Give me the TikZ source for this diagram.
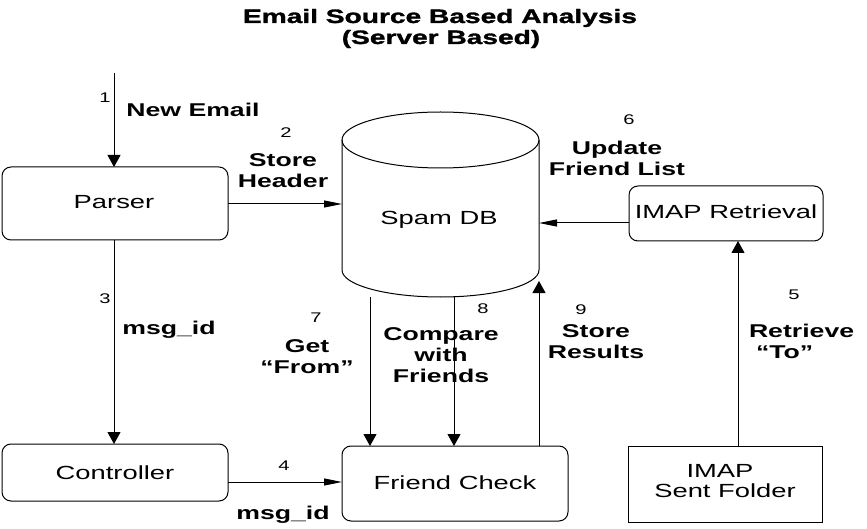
\documentclass[tikz,border=0pt]{standalone}
\usepackage{fontspec}
\setmainfont[FakeStretch=1.44]{Liberation Sans}
\newfontfamily\titlefont[FakeStretch=1.45,FakeBold=1.5]{Liberation Sans Bold}
\usetikzlibrary{arrows.meta}
\begin{document}
\begin{tikzpicture}[x=1pt,y=-1pt,
  every node/.style={inner sep=0pt,outer sep=0pt},
  rbox/.style={draw,line width=1pt,rounded corners=9pt},
  sbox/.style={draw,line width=1pt},
  boxtxt/.style={anchor=base,font=\fontsize{19}{22}\selectfont},
  lbl/.style={anchor=base,align=center,font=\fontsize{18.5}{21}\selectfont\bfseries},
  num/.style={anchor=base,font=\fontsize{14}{16}\selectfont},
  ttl/.style={anchor=base,font=\fontsize{19.4}{21}\selectfont\titlefont},
  vflow/.style={line width=1pt,-{Triangle[length=12pt,width=13pt]}},
  hflow/.style={line width=1pt,-{Triangle[length=18pt,width=7pt]}}]
\useasboundingbox (0,0) rectangle (867,529);

% title
\node[ttl] (t1) at (440,23) {Email Source Based Analysis};
\node[ttl] (t2) at (441,44) {(Server Based)};

% boxes
\node[rbox,minimum width=226pt,minimum height=73pt] (parser) at (115,203.5) {};
\node[boxtxt] (parsert) at (114,209) {Parser};
\node[rbox,minimum width=226pt,minimum height=57pt] (ctrl) at (115,472.5) {};
\node[boxtxt] (ctrlt) at (115,479) {Controller};
\node[rbox,minimum width=226pt,minimum height=75pt] (friend) at (455,483.5) {};
\node[boxtxt] (friendt) at (455,489) {Friend Check};
\node[rbox,minimum width=194pt,minimum height=55pt] (imapr) at (726,213.5) {};
\node[boxtxt] (imaprt) at (726,219) {IMAP Retrieval};
\node[sbox,minimum width=194pt,minimum height=76pt] (sent) at (725,484) {};
\node[boxtxt] (sentt1) at (720,477) {IMAP};
\node[boxtxt] (sentt2) at (725,497) {Sent Folder};

% cylinder
\node[minimum width=197pt,minimum height=185pt] (db) at (440.5,204.5) {};
\draw[line width=1pt] (440.5,140) ellipse [x radius=98.5pt,y radius=28pt];
\draw[line width=1pt] (342,140) -- (342,270) arc[start angle=180,end angle=360,x radius=98.5pt,y radius=27pt] -- (539,140);
\node[boxtxt] (dbt) at (439,225) {Spam DB};

% helper coordinates
\coordinate (in1) at (114,73);
\coordinate (y2) at (0,204);
\coordinate (y4) at (0,482);
\coordinate (y6) at (0,223);
\coordinate (x3) at (114,0);
\coordinate (x5) at (738,0);
\coordinate (s7) at (370,297);
\coordinate (s8) at (454,297);
\coordinate (e9) at (539,281);

% connectors
\draw[vflow] (in1) -- (in1 |- parser.north);
\draw[hflow] (parser.east |- y2) -- (db.west |- y2);
\draw[vflow] (x3 |- parser.south) -- (x3 |- ctrl.north);
\draw[hflow] (ctrl.east |- y4) -- (friend.west |- y4);
\draw[vflow] (x5 |- sent.north) -- (x5 |- imapr.south);
\draw[hflow] (imapr.west |- y6) -- (db.east |- y6);
\draw[vflow] (s7) -- (s7 |- friend.north);
\draw[vflow] (s8) -- (s8 |- friend.north);
\draw[vflow] (e9 |- friend.north) -- (e9);

% labels (multi-line nodes: base = baseline of last line)
\node[num] (n1) at (105,103) {1};
\node[lbl] (l1) at (193,117) {New Email};
\node[num] (n2) at (286,138) {2};
\node[lbl] (l2) at (283,188) {Store\\Header};
\node[num] (n3) at (105,303) {3};
\node[lbl] (l3) at (169,334) {msg\_id};
\node[num] (n4) at (284,470) {4};
\node[lbl] (l4) at (283,519) {msg\_id};
\node[num] (n5) at (794,299.5) {5};
\node[lbl,align=left,anchor=base west] (l5) at (749,358) {Retrieve\\\hspace*{7pt}“To”};
\node[num] (n6) at (629,125) {6};
\node[lbl] (l6) at (617,176) {Update\\Friend List};
\node[num] (n7) at (316,322) {7};
\node[lbl] (l7) at (307,373) {Get\\“From”};
\node[num] (n8) at (483,313) {8};
\node[lbl] (l8) at (441,382) {Compare\\with\\Friends};
\node[num] (n9) at (581,314) {9};
\node[lbl] (l9) at (596,358) {Store\\Results};
\end{tikzpicture}
\end{document}
